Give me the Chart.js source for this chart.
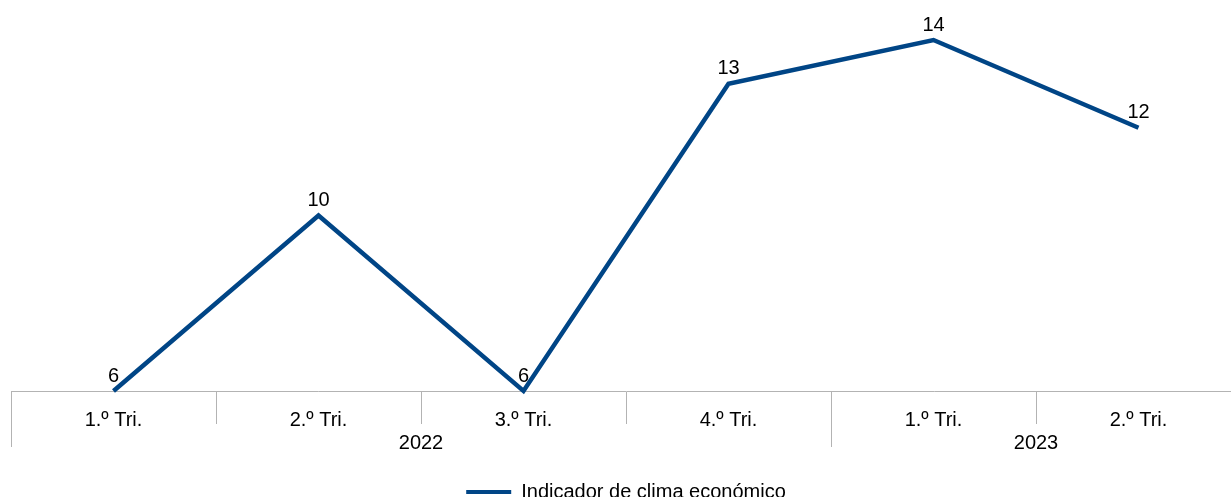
<!DOCTYPE html>
<html>
<head>
<meta charset="utf-8">
<script src="https://cdn.jsdelivr.net/npm/chart.js@4/dist/chart.umd.min.js"></script>
<style>
  html, body { margin: 0; padding: 0; background: #fff; overflow: hidden; }
  #wrap { width: 1252px; height: 512px; }
</style>
</head>
<body>
<div id="wrap"><canvas id="clima" width="1252" height="512"></canvas></div>
<script>
const quarters = ["1.º Tri.", "2.º Tri.", "3.º Tri.", "4.º Tri.", "1.º Tri.", "2.º Tri."];
const years = ["2022", "2023"];
const quartersPerYear = [4, 2];
const values = [6, 10, 6, 13, 14, 12];
const seriesName = "Indicador de clima económico";

const lineColor = "#004586";
const axisGray = "#b3b3b3";
const fontSize = 20;

Chart.defaults.font.family = "'Liberation Sans', Arial, sans-serif";
Chart.defaults.font.size = fontSize;
Chart.defaults.color = "#000";

// quarters sit in the middle of their slot, years in the middle of their run
const yearStarts = [];
const yearMids = [];
let acc = 0;
quartersPerYear.forEach((n) => {
  yearStarts.push(acc);
  yearMids.push(acc + n / 2);
  acc += n;
});
yearStarts.push(acc);

const tickValues = [];
for (let v = 0; v <= quarters.length; v += 0.5) tickValues.push(v);

const isHalf = (v) => Math.abs(v % 1 - 0.5) < 1e-6;

const valueLabels = {
  id: "valueLabels",
  afterDatasetsDraw(chart) {
    const { ctx } = chart;
    const meta = chart.getDatasetMeta(0);
    ctx.save();
    ctx.font = fontSize + "px 'Liberation Sans', Arial, sans-serif";
    ctx.fillStyle = "#000";
    ctx.textAlign = "center";
    ctx.textBaseline = "alphabetic";
    meta.data.forEach((pt, i) => {
      ctx.fillText(String(values[i]), pt.x, pt.y - 9.5);
    });
    ctx.restore();
  },
};

new Chart(document.getElementById("clima"), {
  type: "line",
  data: {
    datasets: [
      {
        label: seriesName,
        data: values.map((v, i) => ({ x: i + 0.5, y: v })),
        borderColor: lineColor,
        backgroundColor: lineColor,
        borderWidth: 4.5,
        pointRadius: 0,
        pointHoverRadius: 0,
        tension: 0,
        clip: false,
      },
    ],
  },
  options: {
    responsive: false,
    animation: false,
    events: [],
    layout: { padding: { top: 40, left: 11, right: 11, bottom: 0 } },
    scales: {
      x: {
        type: "linear",
        min: 0,
        max: quarters.length,
        afterBuildTicks: (scale) => {
          scale.ticks = tickValues.map((v) => ({ value: v }));
        },
        afterFit: (scale) => {
          scale.height = 81;
        },
        border: { display: true, color: axisGray, width: 1 },
        grid: {
          drawOnChartArea: false,
          tickLength: 56,
          tickWidth: 1,
          tickColor: (ctx) => (ctx.tick && isHalf(ctx.tick.value) ? "rgba(0,0,0,0)" : axisGray),
          tickBorderDash: (ctx) => {
            if (!ctx.tick) return [];
            return yearStarts.includes(ctx.tick.value) ? [] : [32, 200];
          },
        },
        ticks: {
          autoSkip: false,
          maxRotation: 0,
          padding: -38,
          font: { size: fontSize, lineHeight: "23px" },
          callback: (v) => {
            if (isHalf(v)) return quarters[Math.floor(v)];
            const y = yearMids.indexOf(v);
            return y >= 0 ? ["", years[y]] : "";
          },
        },
      },
      y: {
        display: false,
        min: 6,
        max: 14,
      },
    },
    plugins: {
      legend: {
        position: "bottom",
        labels: {
          boxWidth: 45,
          boxHeight: 4,
          padding: 10,
          font: { size: fontSize },
          generateLabels: (chart) => {
            const items = Chart.defaults.plugins.legend.labels.generateLabels(chart);
            items.forEach((it) => {
              it.fillStyle = lineColor;
              it.strokeStyle = lineColor;
              it.lineWidth = 0;
            });
            return items;
          },
        },
      },
      tooltip: { enabled: false },
    },
  },
  plugins: [valueLabels],
});
</script>
</body>
</html>
